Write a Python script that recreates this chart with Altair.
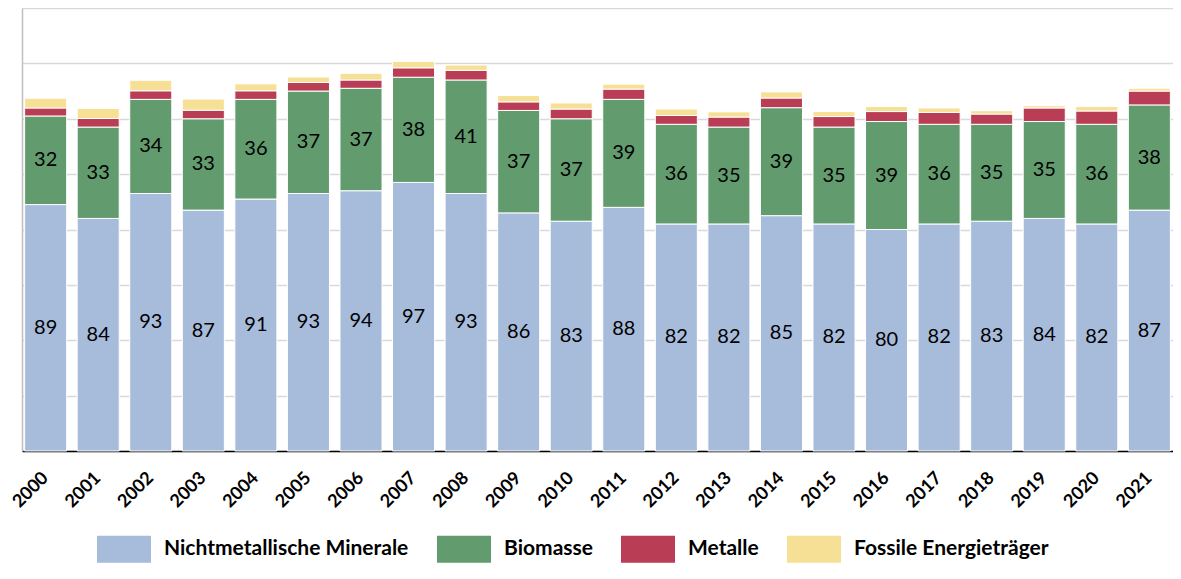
import altair as alt
import pandas as pd

years = [str(y) for y in range(2000, 2022)]
minerals = [89, 84, 93, 87, 91, 93, 94, 97, 93, 86, 83, 88, 82, 82, 85, 82, 80, 82, 83, 84, 82, 87]
biomass = [32, 33, 34, 33, 36, 37, 37, 38, 41, 37, 37, 39, 36, 35, 39, 35, 39, 36, 35, 35, 36, 38]
metals = [2.9, 3.1, 3.1, 3.1, 3.1, 3.1, 3.0, 3.4, 3.5, 3.1, 3.5, 3.7, 3.2, 3.6, 3.5, 3.8, 3.6, 4.3, 3.7, 4.9, 4.8, 5.0]
fossil = [3.5, 3.6, 3.8, 4.0, 2.5, 2.0, 2.4, 2.3, 1.9, 2.3, 2.2, 1.8, 2.3, 1.9, 2.2, 1.8, 1.8, 1.6, 1.2, 0.8, 1.6, 1.0]
categories = ["Nichtmetallische Minerale", "Biomasse", "Metalle", "Fossile Energieträger"]
colors = ["#A7BBDB", "#629B6E", "#B93D55", "#F6E095"]
labelled = ["Nichtmetallische Minerale", "Biomasse"]

series = [minerals, biomass, metals, fossil]
rows = []
for i, y in enumerate(years):
    cum = 0.0
    for k, cat in enumerate(categories):
        v = series[k][i]
        rows.append({"Jahr": y, "Kategorie": cat, "Wert": v, "ord": k,
                     "mid": cum + v / 2.0, "show": cat in labelled})
        cum += v
df = pd.DataFrame(rows)

FONT = "Lato"

x_scale = alt.Scale(paddingInner=0.2, paddingOuter=0.05)
x_axis = alt.Axis(labelAngle=-45, labelAlign="right", labelBaseline="middle",
                  labelPadding=24, ticks=False, domainColor="#000000",
                  domainWidth=1.5, labelFontSize=18, labelFontWeight="bold",
                  labelColor="#000000", labelFont=FONT, grid=False, title=None)
y_scale = alt.Scale(domain=[0, 160], nice=False)
y_axis = alt.Axis(values=list(range(0, 161, 20)), labels=False, ticks=False,
                  domainColor="#BFBFBF", domainWidth=1.5,
                  gridColor="#D9D9D9", gridWidth=1.5, title=None)

bars = alt.Chart(df).mark_bar(stroke="white", strokeWidth=1).encode(
    x=alt.X("Jahr:N", sort=years, scale=x_scale, axis=x_axis),
    y=alt.Y("Wert:Q", stack="zero", scale=y_scale, axis=y_axis),
    color=alt.Color("Kategorie:N", sort=categories,
                    scale=alt.Scale(domain=categories, range=colors),
                    legend=alt.Legend(title=None, orient="none", direction="horizontal",
                                      columns=4, legendX=75, legendY=514,
                                      symbolType="M-1,-0.5H1V0.5H-1Z", symbolSize=2916,
                                      symbolStrokeWidth=0, labelFontSize=21,
                                      labelFontWeight="bold", labelFont=FONT,
                                      labelColor="#000000", labelOffset=13,
                                      columnPadding=28, labelLimit=400, padding=0)),
    order=alt.Order("ord:Q", sort="ascending"),
)

texts = alt.Chart(df).transform_filter("datum.show").mark_text(
    fontSize=20, font=FONT, color="#000000", baseline="middle", align="center"
).encode(
    x=alt.X("Jahr:N", sort=years, scale=x_scale, axis=None),
    y=alt.Y("mid:Q", scale=y_scale, axis=None),
    text=alt.Text("Wert:Q", format=".0f"),
)

chart = alt.layer(bars, texts).resolve_axis(
    x="independent", y="independent"
).properties(
    width=1151, height=443,
    autosize=alt.AutoSizeParams(type="none"),
    padding={"left": 14, "top": 0, "right": 0, "bottom": 113},
    view=alt.ViewBackground(stroke="transparent", strokeWidth=0),
).configure(
    font=FONT,
    view=alt.ViewConfig(stroke="transparent", strokeWidth=0),
)

chart.save("out.html", embed_options={"renderer": "svg", "actions": False})
